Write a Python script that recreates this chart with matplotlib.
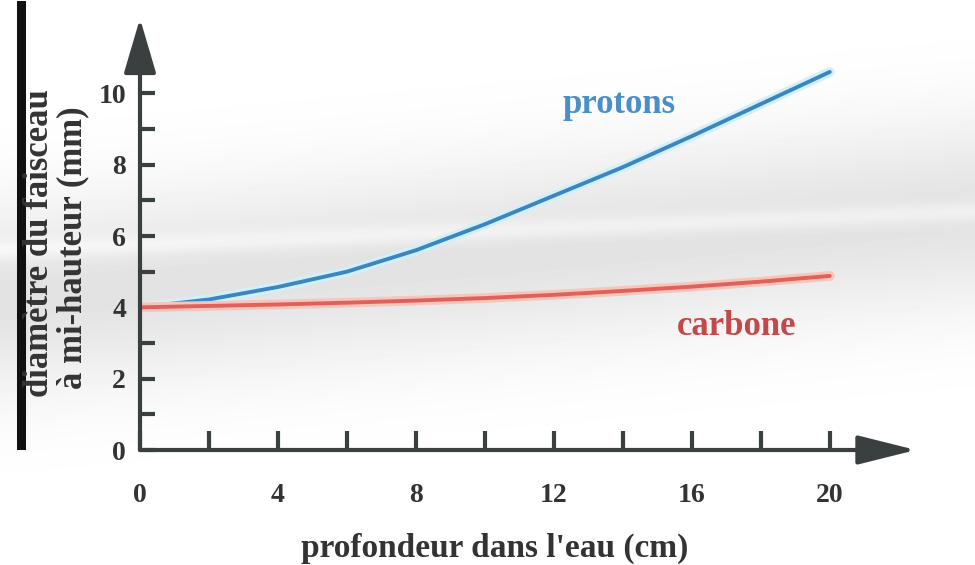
import numpy as np
import matplotlib.pyplot as plt

plt.rcParams['font.family'] = ['Liberation Serif', 'DejaVu Serif']
plt.rcParams['font.weight'] = 'bold'

# values
depth = [0, 2, 4, 6, 8, 10, 12, 14, 16, 18, 20]
protons = [4.0, 4.22, 4.57, 5.0, 5.6, 6.33, 7.13, 7.93, 8.8, 9.7, 10.6]
carbone = [4.0, 4.04, 4.08, 4.13, 4.19, 4.26, 4.35, 4.46, 4.58, 4.72, 4.88]

x_ticks = [0, 2, 4, 6, 8, 10, 12, 14, 16, 18, 20]
x_labels = ['0', '', '4', '', '8', '', '12', '', '16', '', '20']
y_ticks = [0, 1, 2, 3, 4, 5, 6, 7, 8, 9, 10]
y_labels = ['0', '', '2', '', '4', '', '6', '', '8', '', '10']

axis_col = '#3a3f40'

fig = plt.figure(figsize=(9.75, 5.65), dpi=100)

# soft grey swoosh behind everything
bg = fig.add_axes([0, 0, 1, 1], zorder=-5)
yy, xx = np.mgrid[0:565, 0:975]
centre = 300 - 0.09 * xx
shade = 1 - 0.11 * np.exp(-((yy - centre) / 95.0) ** 2)
shade = shade + 0.05 * np.exp(-((yy - (250 - 0.04 * xx)) / 10.0) ** 2)
bg.imshow(np.clip(shade, 0, 1), cmap='gray', vmin=0, vmax=1, aspect='auto')
bg.axis('off')

ax = fig.add_axes([140 / 975, 115 / 565, 776 / 975, 428 / 565])
ax.patch.set_alpha(0)
ax.set_xlim(0, 22.5)
ax.set_ylim(0, 12)
for s in ax.spines.values():
    s.set_visible(False)

ax.plot(depth, protons, color='#d2f0fa', lw=7, solid_capstyle='round')
ax.plot(depth, protons, color='#3b86bf', lw=2.8, solid_capstyle='round')
ax.plot(depth, carbone, color='#f6c6bc', lw=7, solid_capstyle='round')
ax.plot(depth, carbone, color='#e0605a', lw=2.8, solid_capstyle='round')

ax.text(13.9, 9.7, 'protons', color='#4a8fc8', fontsize=25,
        ha='center', va='center')
ax.text(17.3, 3.45, 'carbone', color='#c4474a', fontsize=25,
        ha='center', va='center')

# axes drawn as arrows
ax.annotate('', xy=(22.5, 0), xytext=(0, 0), annotation_clip=False,
            arrowprops=dict(arrowstyle='-|>,head_length=1.8,head_width=0.45',
                            mutation_scale=20, lw=3, color=axis_col,
                            shrinkA=0, shrinkB=0))
ax.annotate('', xy=(0, 12.1), xytext=(0, 0), annotation_clip=False,
            arrowprops=dict(arrowstyle='-|>,head_length=1.7,head_width=0.5',
                            mutation_scale=20, lw=3, color=axis_col,
                            shrinkA=0, shrinkB=0))

ax.set_xticks(x_ticks)
ax.set_xticklabels(x_labels)
ax.set_yticks(y_ticks)
ax.set_yticklabels(y_labels)
ax.tick_params(axis='x', direction='in', length=14, width=3, color=axis_col,
               pad=24, labelsize=20, labelcolor='#333333')
ax.tick_params(axis='y', direction='in', length=11, width=3, color=axis_col,
               pad=10, labelsize=20, labelcolor='#333333')

fig.text(495 / 975, 1 - 548 / 565, "profondeur dans l'eau (cm)", fontsize=24,
         ha='center', va='center', color='#333333')
fig.text(40 / 975, 1 - 243 / 565, 'diamètre du faisceau', fontsize=25,
         rotation=90, ha='center', va='center', color='#333333')
fig.text(73 / 975, 1 - 248 / 565, 'à mi-hauteur (mm)', fontsize=25,
         rotation=90, ha='center', va='center', color='#333333')

# dark bar at the left edge
fig.add_artist(plt.Line2D([21 / 975, 21 / 975], [1 - 5 / 565, 1 - 445 / 565],
                          color='#111111', lw=6.5))

fig.savefig('out.png', dpi=100)
